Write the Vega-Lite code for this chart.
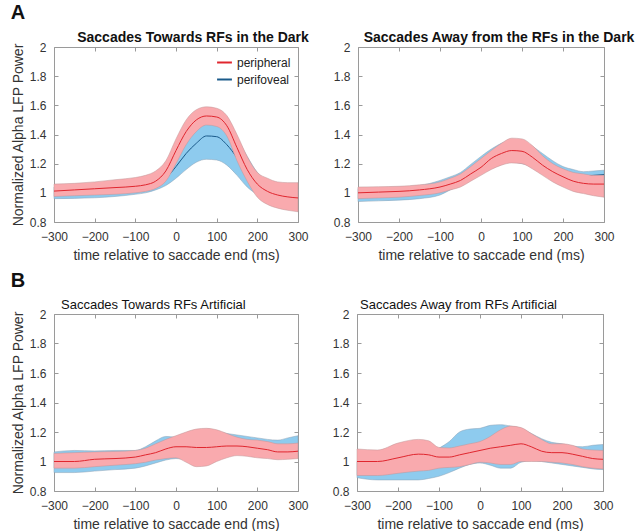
{
"$schema": "https://vega.github.io/schema/vega-lite/v6.json",
"padding": {"left": 10, "top": 2, "right": 2, "bottom": 2},
"config": {
  "font": "Liberation Sans",
  "view": {"stroke": "#9a9a9a", "strokeWidth": 1},
  "axis": {"grid": false, "domain": false, "tickColor": "#9a9a9a", "tickSize": -4, "labelFlush": false, "labelFont": "Liberation Sans", "labelFontSize": 12, "labelColor": "#333333", "titleFont": "Liberation Sans", "titleFontSize": 14, "titleFontWeight": "normal", "titleColor": "#333333"},
  "axisX": {"labelPadding": 13, "titlePadding": 6},
  "axisY": {"labelPadding": 12, "titlePadding": 4},
  "title": {"font": "Liberation Sans", "color": "#111111"},
  "legend": {"orient": "top-right", "offset": 7, "symbolType": "stroke", "symbolStrokeWidth": 2, "symbolSize": 220, "labelFontSize": 12, "labelFont": "Liberation Sans", "labelColor": "#222222", "rowPadding": 2, "padding": 0}
},
"data": {"values": [
{"p":"A1","s":"peripheral","t":-300,"m":1.012,"lo":0.975,"hi":1.06},
{"p":"A1","s":"peripheral","t":-250,"m":1.02,"lo":0.98,"hi":1.065},
{"p":"A1","s":"peripheral","t":-200,"m":1.028,"lo":0.985,"hi":1.075},
{"p":"A1","s":"peripheral","t":-150,"m":1.036,"lo":0.99,"hi":1.09},
{"p":"A1","s":"peripheral","t":-100,"m":1.045,"lo":1.0,"hi":1.105},
{"p":"A1","s":"peripheral","t":-75,"m":1.055,"lo":1.01,"hi":1.12},
{"p":"A1","s":"peripheral","t":-50,"m":1.08,"lo":1.03,"hi":1.15},
{"p":"A1","s":"peripheral","t":-25,"m":1.15,"lo":1.08,"hi":1.22},
{"p":"A1","s":"peripheral","t":0,"m":1.29,"lo":1.2,"hi":1.37},
{"p":"A1","s":"peripheral","t":25,"m":1.42,"lo":1.33,"hi":1.5},
{"p":"A1","s":"peripheral","t":50,"m":1.5,"lo":1.42,"hi":1.57},
{"p":"A1","s":"peripheral","t":75,"m":1.527,"lo":1.465,"hi":1.59},
{"p":"A1","s":"peripheral","t":100,"m":1.52,"lo":1.455,"hi":1.58},
{"p":"A1","s":"peripheral","t":125,"m":1.46,"lo":1.39,"hi":1.53},
{"p":"A1","s":"peripheral","t":150,"m":1.31,"lo":1.22,"hi":1.4},
{"p":"A1","s":"peripheral","t":175,"m":1.16,"lo":1.08,"hi":1.25},
{"p":"A1","s":"peripheral","t":200,"m":1.06,"lo":0.97,"hi":1.14},
{"p":"A1","s":"peripheral","t":225,"m":1.01,"lo":0.92,"hi":1.1},
{"p":"A1","s":"peripheral","t":250,"m":0.985,"lo":0.895,"hi":1.075},
{"p":"A1","s":"peripheral","t":275,"m":0.972,"lo":0.88,"hi":1.07},
{"p":"A1","s":"peripheral","t":300,"m":0.965,"lo":0.87,"hi":1.07},
{"p":"A1","s":"perifoveal","t":-300,"m":1.0,"lo":0.96,"hi":1.04},
{"p":"A1","s":"perifoveal","t":-250,"m":1.005,"lo":0.962,"hi":1.045},
{"p":"A1","s":"perifoveal","t":-200,"m":1.01,"lo":0.966,"hi":1.05},
{"p":"A1","s":"perifoveal","t":-150,"m":1.02,"lo":0.975,"hi":1.06},
{"p":"A1","s":"perifoveal","t":-100,"m":1.03,"lo":0.99,"hi":1.075},
{"p":"A1","s":"perifoveal","t":-75,"m":1.04,"lo":1.0,"hi":1.085},
{"p":"A1","s":"perifoveal","t":-50,"m":1.06,"lo":1.02,"hi":1.1},
{"p":"A1","s":"perifoveal","t":-25,"m":1.1,"lo":1.05,"hi":1.16},
{"p":"A1","s":"perifoveal","t":0,"m":1.18,"lo":1.1,"hi":1.25},
{"p":"A1","s":"perifoveal","t":25,"m":1.27,"lo":1.16,"hi":1.36},
{"p":"A1","s":"perifoveal","t":50,"m":1.34,"lo":1.21,"hi":1.43},
{"p":"A1","s":"perifoveal","t":75,"m":1.39,"lo":1.23,"hi":1.47},
{"p":"A1","s":"perifoveal","t":100,"m":1.385,"lo":1.225,"hi":1.47},
{"p":"A1","s":"perifoveal","t":125,"m":1.33,"lo":1.19,"hi":1.44},
{"p":"A1","s":"perifoveal","t":150,"m":1.24,"lo":1.12,"hi":1.37},
{"p":"A1","s":"perifoveal","t":175,"m":1.13,"lo":1.04,"hi":1.25},
{"p":"A1","s":"perifoveal","t":200,"m":1.06,"lo":0.99,"hi":1.14},
{"p":"A1","s":"perifoveal","t":225,"m":1.02,"lo":0.965,"hi":1.08},
{"p":"A1","s":"perifoveal","t":250,"m":1.0,"lo":0.955,"hi":1.05},
{"p":"A1","s":"perifoveal","t":275,"m":0.99,"lo":0.95,"hi":1.04},
{"p":"A1","s":"perifoveal","t":300,"m":0.985,"lo":0.95,"hi":1.03},
{"p":"A2","s":"peripheral","t":-300,"m":1.0,"lo":0.96,"hi":1.04},
{"p":"A2","s":"peripheral","t":-250,"m":1.005,"lo":0.965,"hi":1.042},
{"p":"A2","s":"peripheral","t":-200,"m":1.01,"lo":0.97,"hi":1.045},
{"p":"A2","s":"peripheral","t":-150,"m":1.02,"lo":0.982,"hi":1.055},
{"p":"A2","s":"peripheral","t":-100,"m":1.04,"lo":1.0,"hi":1.075},
{"p":"A2","s":"peripheral","t":-75,"m":1.06,"lo":1.02,"hi":1.1},
{"p":"A2","s":"peripheral","t":-50,"m":1.085,"lo":1.04,"hi":1.13},
{"p":"A2","s":"peripheral","t":-25,"m":1.13,"lo":1.08,"hi":1.18},
{"p":"A2","s":"peripheral","t":0,"m":1.175,"lo":1.12,"hi":1.235},
{"p":"A2","s":"peripheral","t":25,"m":1.235,"lo":1.16,"hi":1.29},
{"p":"A2","s":"peripheral","t":50,"m":1.27,"lo":1.19,"hi":1.34},
{"p":"A2","s":"peripheral","t":75,"m":1.29,"lo":1.205,"hi":1.375},
{"p":"A2","s":"peripheral","t":100,"m":1.285,"lo":1.2,"hi":1.37},
{"p":"A2","s":"peripheral","t":125,"m":1.245,"lo":1.165,"hi":1.325},
{"p":"A2","s":"peripheral","t":150,"m":1.19,"lo":1.12,"hi":1.255},
{"p":"A2","s":"peripheral","t":175,"m":1.145,"lo":1.075,"hi":1.2},
{"p":"A2","s":"peripheral","t":200,"m":1.11,"lo":1.04,"hi":1.165},
{"p":"A2","s":"peripheral","t":225,"m":1.08,"lo":1.01,"hi":1.14},
{"p":"A2","s":"peripheral","t":250,"m":1.065,"lo":0.995,"hi":1.13},
{"p":"A2","s":"peripheral","t":275,"m":1.06,"lo":0.98,"hi":1.12},
{"p":"A2","s":"peripheral","t":300,"m":1.06,"lo":0.97,"hi":1.12},
{"p":"A2","s":"perifoveal","t":-300,"m":0.985,"lo":0.94,"hi":1.03},
{"p":"A2","s":"perifoveal","t":-250,"m":0.99,"lo":0.945,"hi":1.035},
{"p":"A2","s":"perifoveal","t":-200,"m":0.995,"lo":0.95,"hi":1.04},
{"p":"A2","s":"perifoveal","t":-150,"m":1.0,"lo":0.96,"hi":1.05},
{"p":"A2","s":"perifoveal","t":-100,"m":1.03,"lo":0.985,"hi":1.085},
{"p":"A2","s":"perifoveal","t":-75,"m":1.06,"lo":1.02,"hi":1.11},
{"p":"A2","s":"perifoveal","t":-50,"m":1.09,"lo":1.05,"hi":1.14},
{"p":"A2","s":"perifoveal","t":-25,"m":1.14,"lo":1.09,"hi":1.195},
{"p":"A2","s":"perifoveal","t":0,"m":1.19,"lo":1.13,"hi":1.25},
{"p":"A2","s":"perifoveal","t":25,"m":1.24,"lo":1.17,"hi":1.3},
{"p":"A2","s":"perifoveal","t":50,"m":1.27,"lo":1.2,"hi":1.34},
{"p":"A2","s":"perifoveal","t":75,"m":1.285,"lo":1.21,"hi":1.36},
{"p":"A2","s":"perifoveal","t":100,"m":1.28,"lo":1.2,"hi":1.355},
{"p":"A2","s":"perifoveal","t":125,"m":1.25,"lo":1.18,"hi":1.32},
{"p":"A2","s":"perifoveal","t":150,"m":1.21,"lo":1.15,"hi":1.27},
{"p":"A2","s":"perifoveal","t":175,"m":1.17,"lo":1.12,"hi":1.22},
{"p":"A2","s":"perifoveal","t":200,"m":1.14,"lo":1.1,"hi":1.18},
{"p":"A2","s":"perifoveal","t":225,"m":1.12,"lo":1.09,"hi":1.16},
{"p":"A2","s":"perifoveal","t":250,"m":1.115,"lo":1.08,"hi":1.145},
{"p":"A2","s":"perifoveal","t":275,"m":1.12,"lo":1.08,"hi":1.15},
{"p":"A2","s":"perifoveal","t":300,"m":1.125,"lo":1.08,"hi":1.155},
{"p":"B1","s":"peripheral","t":-300,"m":1.0,"lo":0.955,"hi":1.055},
{"p":"B1","s":"peripheral","t":-250,"m":1.0,"lo":0.955,"hi":1.06},
{"p":"B1","s":"peripheral","t":-200,"m":1.015,"lo":0.965,"hi":1.065},
{"p":"B1","s":"peripheral","t":-150,"m":1.02,"lo":0.975,"hi":1.068},
{"p":"B1","s":"peripheral","t":-100,"m":1.03,"lo":0.985,"hi":1.075},
{"p":"B1","s":"peripheral","t":-75,"m":1.045,"lo":0.995,"hi":1.09},
{"p":"B1","s":"peripheral","t":-50,"m":1.06,"lo":1.01,"hi":1.12},
{"p":"B1","s":"peripheral","t":-25,"m":1.085,"lo":1.02,"hi":1.15},
{"p":"B1","s":"peripheral","t":0,"m":1.1,"lo":1.025,"hi":1.175},
{"p":"B1","s":"peripheral","t":25,"m":1.1,"lo":0.995,"hi":1.2},
{"p":"B1","s":"peripheral","t":50,"m":1.095,"lo":0.965,"hi":1.22},
{"p":"B1","s":"peripheral","t":75,"m":1.095,"lo":0.97,"hi":1.225},
{"p":"B1","s":"peripheral","t":100,"m":1.1,"lo":1.0,"hi":1.215},
{"p":"B1","s":"peripheral","t":125,"m":1.105,"lo":1.025,"hi":1.19},
{"p":"B1","s":"peripheral","t":150,"m":1.105,"lo":1.04,"hi":1.165},
{"p":"B1","s":"peripheral","t":175,"m":1.1,"lo":1.035,"hi":1.15},
{"p":"B1","s":"peripheral","t":200,"m":1.09,"lo":1.025,"hi":1.145},
{"p":"B1","s":"peripheral","t":225,"m":1.08,"lo":1.02,"hi":1.135},
{"p":"B1","s":"peripheral","t":250,"m":1.065,"lo":1.012,"hi":1.12},
{"p":"B1","s":"peripheral","t":275,"m":1.065,"lo":1.015,"hi":1.12},
{"p":"B1","s":"peripheral","t":300,"m":1.07,"lo":1.02,"hi":1.125},
{"p":"B1","s":"perifoveal","t":-300,"m":1.0,"lo":0.925,"hi":1.065},
{"p":"B1","s":"perifoveal","t":-250,"m":1.0,"lo":0.925,"hi":1.075},
{"p":"B1","s":"perifoveal","t":-200,"m":1.005,"lo":0.935,"hi":1.072},
{"p":"B1","s":"perifoveal","t":-150,"m":1.01,"lo":0.945,"hi":1.075},
{"p":"B1","s":"perifoveal","t":-100,"m":1.015,"lo":0.955,"hi":1.075},
{"p":"B1","s":"perifoveal","t":-75,"m":1.04,"lo":0.97,"hi":1.1},
{"p":"B1","s":"perifoveal","t":-50,"m":1.07,"lo":0.99,"hi":1.14},
{"p":"B1","s":"perifoveal","t":-25,"m":1.09,"lo":1.01,"hi":1.17},
{"p":"B1","s":"perifoveal","t":0,"m":1.09,"lo":1.02,"hi":1.165},
{"p":"B1","s":"perifoveal","t":25,"m":1.09,"lo":1.015,"hi":1.17},
{"p":"B1","s":"perifoveal","t":50,"m":1.11,"lo":1.03,"hi":1.19},
{"p":"B1","s":"perifoveal","t":75,"m":1.12,"lo":1.045,"hi":1.2},
{"p":"B1","s":"perifoveal","t":100,"m":1.125,"lo":1.055,"hi":1.2},
{"p":"B1","s":"perifoveal","t":125,"m":1.12,"lo":1.055,"hi":1.19},
{"p":"B1","s":"perifoveal","t":150,"m":1.115,"lo":1.05,"hi":1.18},
{"p":"B1","s":"perifoveal","t":175,"m":1.11,"lo":1.045,"hi":1.17},
{"p":"B1","s":"perifoveal","t":200,"m":1.1,"lo":1.04,"hi":1.16},
{"p":"B1","s":"perifoveal","t":225,"m":1.09,"lo":1.035,"hi":1.15},
{"p":"B1","s":"perifoveal","t":250,"m":1.09,"lo":1.03,"hi":1.145},
{"p":"B1","s":"perifoveal","t":275,"m":1.1,"lo":1.035,"hi":1.16},
{"p":"B1","s":"perifoveal","t":300,"m":1.105,"lo":1.04,"hi":1.175},
{"p":"B2","s":"peripheral","t":-300,"m":1.0,"lo":0.905,"hi":1.085},
{"p":"B2","s":"peripheral","t":-250,"m":1.0,"lo":0.905,"hi":1.078},
{"p":"B2","s":"peripheral","t":-200,"m":1.025,"lo":0.92,"hi":1.125},
{"p":"B2","s":"peripheral","t":-150,"m":1.05,"lo":0.935,"hi":1.15},
{"p":"B2","s":"peripheral","t":-125,"m":1.045,"lo":0.94,"hi":1.14},
{"p":"B2","s":"peripheral","t":-100,"m":1.03,"lo":0.955,"hi":1.095},
{"p":"B2","s":"peripheral","t":-75,"m":1.03,"lo":0.96,"hi":1.092},
{"p":"B2","s":"peripheral","t":-50,"m":1.045,"lo":0.965,"hi":1.105},
{"p":"B2","s":"peripheral","t":-25,"m":1.06,"lo":0.98,"hi":1.12},
{"p":"B2","s":"peripheral","t":0,"m":1.075,"lo":0.995,"hi":1.135},
{"p":"B2","s":"peripheral","t":25,"m":1.09,"lo":0.99,"hi":1.17},
{"p":"B2","s":"peripheral","t":50,"m":1.1,"lo":0.98,"hi":1.215},
{"p":"B2","s":"peripheral","t":75,"m":1.11,"lo":0.98,"hi":1.24},
{"p":"B2","s":"peripheral","t":100,"m":1.12,"lo":1.0,"hi":1.23},
{"p":"B2","s":"peripheral","t":125,"m":1.1,"lo":1.0,"hi":1.19},
{"p":"B2","s":"peripheral","t":150,"m":1.07,"lo":1.0,"hi":1.15},
{"p":"B2","s":"peripheral","t":175,"m":1.06,"lo":0.995,"hi":1.12},
{"p":"B2","s":"peripheral","t":200,"m":1.06,"lo":0.99,"hi":1.12},
{"p":"B2","s":"peripheral","t":225,"m":1.05,"lo":0.98,"hi":1.11},
{"p":"B2","s":"peripheral","t":250,"m":1.035,"lo":0.965,"hi":1.085},
{"p":"B2","s":"peripheral","t":275,"m":1.02,"lo":0.955,"hi":1.078},
{"p":"B2","s":"peripheral","t":300,"m":1.015,"lo":0.95,"hi":1.075},
{"p":"B2","s":"perifoveal","t":-300,"m":0.98,"lo":0.89,"hi":1.0},
{"p":"B2","s":"perifoveal","t":-250,"m":0.975,"lo":0.875,"hi":1.0},
{"p":"B2","s":"perifoveal","t":-200,"m":0.975,"lo":0.875,"hi":1.01},
{"p":"B2","s":"perifoveal","t":-150,"m":0.98,"lo":0.875,"hi":1.02},
{"p":"B2","s":"perifoveal","t":-125,"m":0.99,"lo":0.885,"hi":1.05},
{"p":"B2","s":"perifoveal","t":-100,"m":1.0,"lo":0.9,"hi":1.09},
{"p":"B2","s":"perifoveal","t":-75,"m":1.04,"lo":0.925,"hi":1.135},
{"p":"B2","s":"perifoveal","t":-50,"m":1.09,"lo":0.955,"hi":1.2},
{"p":"B2","s":"perifoveal","t":-25,"m":1.11,"lo":0.98,"hi":1.22},
{"p":"B2","s":"perifoveal","t":0,"m":1.12,"lo":0.99,"hi":1.225},
{"p":"B2","s":"perifoveal","t":25,"m":1.12,"lo":0.975,"hi":1.245},
{"p":"B2","s":"perifoveal","t":50,"m":1.11,"lo":0.955,"hi":1.25},
{"p":"B2","s":"perifoveal","t":75,"m":1.1,"lo":0.955,"hi":1.24},
{"p":"B2","s":"perifoveal","t":100,"m":1.1,"lo":0.995,"hi":1.225},
{"p":"B2","s":"perifoveal","t":125,"m":1.08,"lo":1.005,"hi":1.19},
{"p":"B2","s":"perifoveal","t":150,"m":1.06,"lo":1.0,"hi":1.155},
{"p":"B2","s":"perifoveal","t":175,"m":1.05,"lo":0.99,"hi":1.13},
{"p":"B2","s":"perifoveal","t":200,"m":1.045,"lo":0.98,"hi":1.12},
{"p":"B2","s":"perifoveal","t":225,"m":1.04,"lo":0.97,"hi":1.105},
{"p":"B2","s":"perifoveal","t":250,"m":1.04,"lo":0.96,"hi":1.1},
{"p":"B2","s":"perifoveal","t":275,"m":1.05,"lo":0.95,"hi":1.11},
{"p":"B2","s":"perifoveal","t":300,"m":1.05,"lo":0.945,"hi":1.115}
]},
"resolve": {"scale": {"color": "independent"}, "legend": {"color": "independent"}},
"spacing": 7,
"vconcat": [
 {
  "title": {"text": "A", "anchor": "start", "fontSize": 20, "fontWeight": "bold", "offset": 8},
  "spacing": 22,
  "resolve": {"scale": {"color": "independent"}, "legend": {"color": "independent"}},
  "hconcat": [
   {
    "width": 244, "height": 175,
    "title": {"text": "Saccades Towards RFs in the Dark", "fontSize": 14, "fontWeight": "bold", "dx": 17, "offset": -4},
    "transform": [{"filter": "datum.p === 'A1'"}],
    "resolve": {"axis": {"x": "independent", "y": "independent"}},
    "layer": [
     {"transform": [{"filter": "datum.s === 'perifoveal'"}],
      "mark": {"type": "area", "interpolate": "monotone", "color": "#8ECBEE", "stroke": "#8aa0b4", "strokeWidth": 0.5},
      "encoding": {
       "x": {"field": "t", "type": "quantitative", "scale": {"domain": [-300, 300], "nice": false, "zero": false}, "axis": {"values": [-300, -200, -100, 0, 100, 200, 300], "title": "time relative to saccade end (ms)"}},
       "y": {"field": "lo", "type": "quantitative", "scale": {"domain": [0.8, 2], "nice": false, "zero": false}, "axis": {"values": [0.8, 1, 1.2, 1.4, 1.6, 1.8, 2], "format": "~g", "title": "Normalized Alpha LFP Power"}},
       "y2": {"field": "hi"}}},
     {"transform": [{"filter": "datum.s === 'perifoveal'"}],
      "mark": {"type": "line", "interpolate": "monotone", "strokeWidth": 1},
      "encoding": {
       "x": {"field": "t", "type": "quantitative", "axis": null},
       "y": {"field": "m", "type": "quantitative", "axis": null},
       "color": {"field": "s", "type": "nominal", "scale": {"domain": ["peripheral", "perifoveal"], "range": ["#E0262E", "#1A5A8A"]}, "legend": {"title": null}}}},
     {"transform": [{"filter": "datum.s === 'peripheral'"}],
      "mark": {"type": "area", "interpolate": "monotone", "color": "#F9AAAE", "stroke": "#c09597", "strokeWidth": 0.5},
      "encoding": {
       "x": {"field": "t", "type": "quantitative", "axis": {"orient": "top", "values": [-300, -200, -100, 0, 100, 200, 300], "labels": false, "title": null}},
       "y": {"field": "lo", "type": "quantitative", "axis": {"orient": "right", "values": [0.8, 1, 1.2, 1.4, 1.6, 1.8, 2], "labels": false, "title": null}},
       "y2": {"field": "hi"}}},
     {"transform": [{"filter": "datum.s === 'peripheral'"}],
      "mark": {"type": "line", "interpolate": "monotone", "strokeWidth": 1},
      "encoding": {
       "x": {"field": "t", "type": "quantitative", "axis": null},
       "y": {"field": "m", "type": "quantitative", "axis": null},
       "color": {"field": "s", "type": "nominal", "scale": {"domain": ["peripheral", "perifoveal"], "range": ["#E0262E", "#1A5A8A"]}, "legend": {"title": null}}}}
    ]
   },
   {
    "width": 246, "height": 175,
    "title": {"text": "Saccades Away from the RFs in the Dark", "fontSize": 14, "fontWeight": "bold", "dx": 18, "offset": -4},
    "transform": [{"filter": "datum.p === 'A2'"}],
    "resolve": {"axis": {"x": "independent", "y": "independent"}},
    "layer": [
     {"transform": [{"filter": "datum.s === 'perifoveal'"}],
      "mark": {"type": "area", "interpolate": "monotone", "color": "#8ECBEE", "stroke": "#8aa0b4", "strokeWidth": 0.5},
      "encoding": {
       "x": {"field": "t", "type": "quantitative", "scale": {"domain": [-300, 300], "nice": false, "zero": false}, "axis": {"values": [-300, -200, -100, 0, 100, 200, 300], "title": "time relative to saccade end (ms)"}},
       "y": {"field": "lo", "type": "quantitative", "scale": {"domain": [0.8, 2], "nice": false, "zero": false}, "axis": {"values": [0.8, 1, 1.2, 1.4, 1.6, 1.8, 2], "format": "~g", "title": null}},
       "y2": {"field": "hi"}}},
     {"transform": [{"filter": "datum.s === 'perifoveal'"}],
      "mark": {"type": "line", "interpolate": "monotone", "strokeWidth": 1, "color": "#1A5A8A"},
      "encoding": {
       "x": {"field": "t", "type": "quantitative", "axis": null},
       "y": {"field": "m", "type": "quantitative", "axis": null}}},
     {"transform": [{"filter": "datum.s === 'peripheral'"}],
      "mark": {"type": "area", "interpolate": "monotone", "color": "#F9AAAE", "stroke": "#c09597", "strokeWidth": 0.5},
      "encoding": {
       "x": {"field": "t", "type": "quantitative", "axis": {"orient": "top", "values": [-300, -200, -100, 0, 100, 200, 300], "labels": false, "title": null}},
       "y": {"field": "lo", "type": "quantitative", "axis": {"orient": "right", "values": [0.8, 1, 1.2, 1.4, 1.6, 1.8, 2], "labels": false, "title": null}},
       "y2": {"field": "hi"}}},
     {"transform": [{"filter": "datum.s === 'peripheral'"}],
      "mark": {"type": "line", "interpolate": "monotone", "strokeWidth": 1, "color": "#E0262E"},
      "encoding": {
       "x": {"field": "t", "type": "quantitative", "axis": null},
       "y": {"field": "m", "type": "quantitative", "axis": null}}}
    ]
   }
  ]
 },
 {
  "title": {"text": "B", "anchor": "start", "fontSize": 20, "fontWeight": "bold", "offset": 8},
  "spacing": 22,
  "hconcat": [
   {
    "width": 244, "height": 177,
    "title": {"text": "Saccades Towards RFs Artificial", "fontSize": 13, "fontWeight": "normal", "anchor": "start", "frame": "group", "dx": 7, "offset": -4},
    "transform": [{"filter": "datum.p === 'B1'"}],
    "resolve": {"axis": {"x": "independent", "y": "independent"}},
    "layer": [
     {"transform": [{"filter": "datum.s === 'perifoveal'"}],
      "mark": {"type": "area", "interpolate": "monotone", "color": "#8ECBEE", "stroke": "#8aa0b4", "strokeWidth": 0.5},
      "encoding": {
       "x": {"field": "t", "type": "quantitative", "scale": {"domain": [-300, 300], "nice": false, "zero": false}, "axis": {"values": [-300, -200, -100, 0, 100, 200, 300], "title": "time relative to saccade end (ms)"}},
       "y": {"field": "lo", "type": "quantitative", "scale": {"domain": [0.8, 2], "nice": false, "zero": false}, "axis": {"values": [0.8, 1, 1.2, 1.4, 1.6, 1.8, 2], "format": "~g", "title": "Normalized Alpha LFP Power"}},
       "y2": {"field": "hi"}}},
     {"transform": [{"filter": "datum.s === 'perifoveal'"}],
      "mark": {"type": "line", "interpolate": "monotone", "strokeWidth": 1, "color": "#1A5A8A"},
      "encoding": {
       "x": {"field": "t", "type": "quantitative", "axis": null},
       "y": {"field": "m", "type": "quantitative", "axis": null}}},
     {"transform": [{"filter": "datum.s === 'peripheral'"}],
      "mark": {"type": "area", "interpolate": "monotone", "color": "#F9AAAE", "stroke": "#c09597", "strokeWidth": 0.5},
      "encoding": {
       "x": {"field": "t", "type": "quantitative", "axis": {"orient": "top", "values": [-300, -200, -100, 0, 100, 200, 300], "labels": false, "title": null}},
       "y": {"field": "lo", "type": "quantitative", "axis": {"orient": "right", "values": [0.8, 1, 1.2, 1.4, 1.6, 1.8, 2], "labels": false, "title": null}},
       "y2": {"field": "hi"}}},
     {"transform": [{"filter": "datum.s === 'peripheral'"}],
      "mark": {"type": "line", "interpolate": "monotone", "strokeWidth": 1, "color": "#E0262E"},
      "encoding": {
       "x": {"field": "t", "type": "quantitative", "axis": null},
       "y": {"field": "m", "type": "quantitative", "axis": null}}}
    ]
   },
   {
    "width": 246, "height": 177,
    "title": {"text": "Saccades Away from RFs Artificial", "fontSize": 13, "fontWeight": "normal", "anchor": "start", "frame": "group", "dx": 3, "offset": -4},
    "transform": [{"filter": "datum.p === 'B2'"}],
    "resolve": {"axis": {"x": "independent", "y": "independent"}},
    "layer": [
     {"transform": [{"filter": "datum.s === 'perifoveal'"}],
      "mark": {"type": "area", "interpolate": "monotone", "color": "#8ECBEE", "stroke": "#8aa0b4", "strokeWidth": 0.5},
      "encoding": {
       "x": {"field": "t", "type": "quantitative", "scale": {"domain": [-300, 300], "nice": false, "zero": false}, "axis": {"values": [-300, -200, -100, 0, 100, 200, 300], "title": "time relative to saccade end (ms)"}},
       "y": {"field": "lo", "type": "quantitative", "scale": {"domain": [0.8, 2], "nice": false, "zero": false}, "axis": {"values": [0.8, 1, 1.2, 1.4, 1.6, 1.8, 2], "format": "~g", "title": null}},
       "y2": {"field": "hi"}}},
     {"transform": [{"filter": "datum.s === 'perifoveal'"}],
      "mark": {"type": "line", "interpolate": "monotone", "strokeWidth": 1, "color": "#1A5A8A"},
      "encoding": {
       "x": {"field": "t", "type": "quantitative", "axis": null},
       "y": {"field": "m", "type": "quantitative", "axis": null}}},
     {"transform": [{"filter": "datum.s === 'peripheral'"}],
      "mark": {"type": "area", "interpolate": "monotone", "color": "#F9AAAE", "stroke": "#c09597", "strokeWidth": 0.5},
      "encoding": {
       "x": {"field": "t", "type": "quantitative", "axis": {"orient": "top", "values": [-300, -200, -100, 0, 100, 200, 300], "labels": false, "title": null}},
       "y": {"field": "lo", "type": "quantitative", "axis": {"orient": "right", "values": [0.8, 1, 1.2, 1.4, 1.6, 1.8, 2], "labels": false, "title": null}},
       "y2": {"field": "hi"}}},
     {"transform": [{"filter": "datum.s === 'peripheral'"}],
      "mark": {"type": "line", "interpolate": "monotone", "strokeWidth": 1, "color": "#E0262E"},
      "encoding": {
       "x": {"field": "t", "type": "quantitative", "axis": null},
       "y": {"field": "m", "type": "quantitative", "axis": null}}}
    ]
   }
  ]
 }
]
}
